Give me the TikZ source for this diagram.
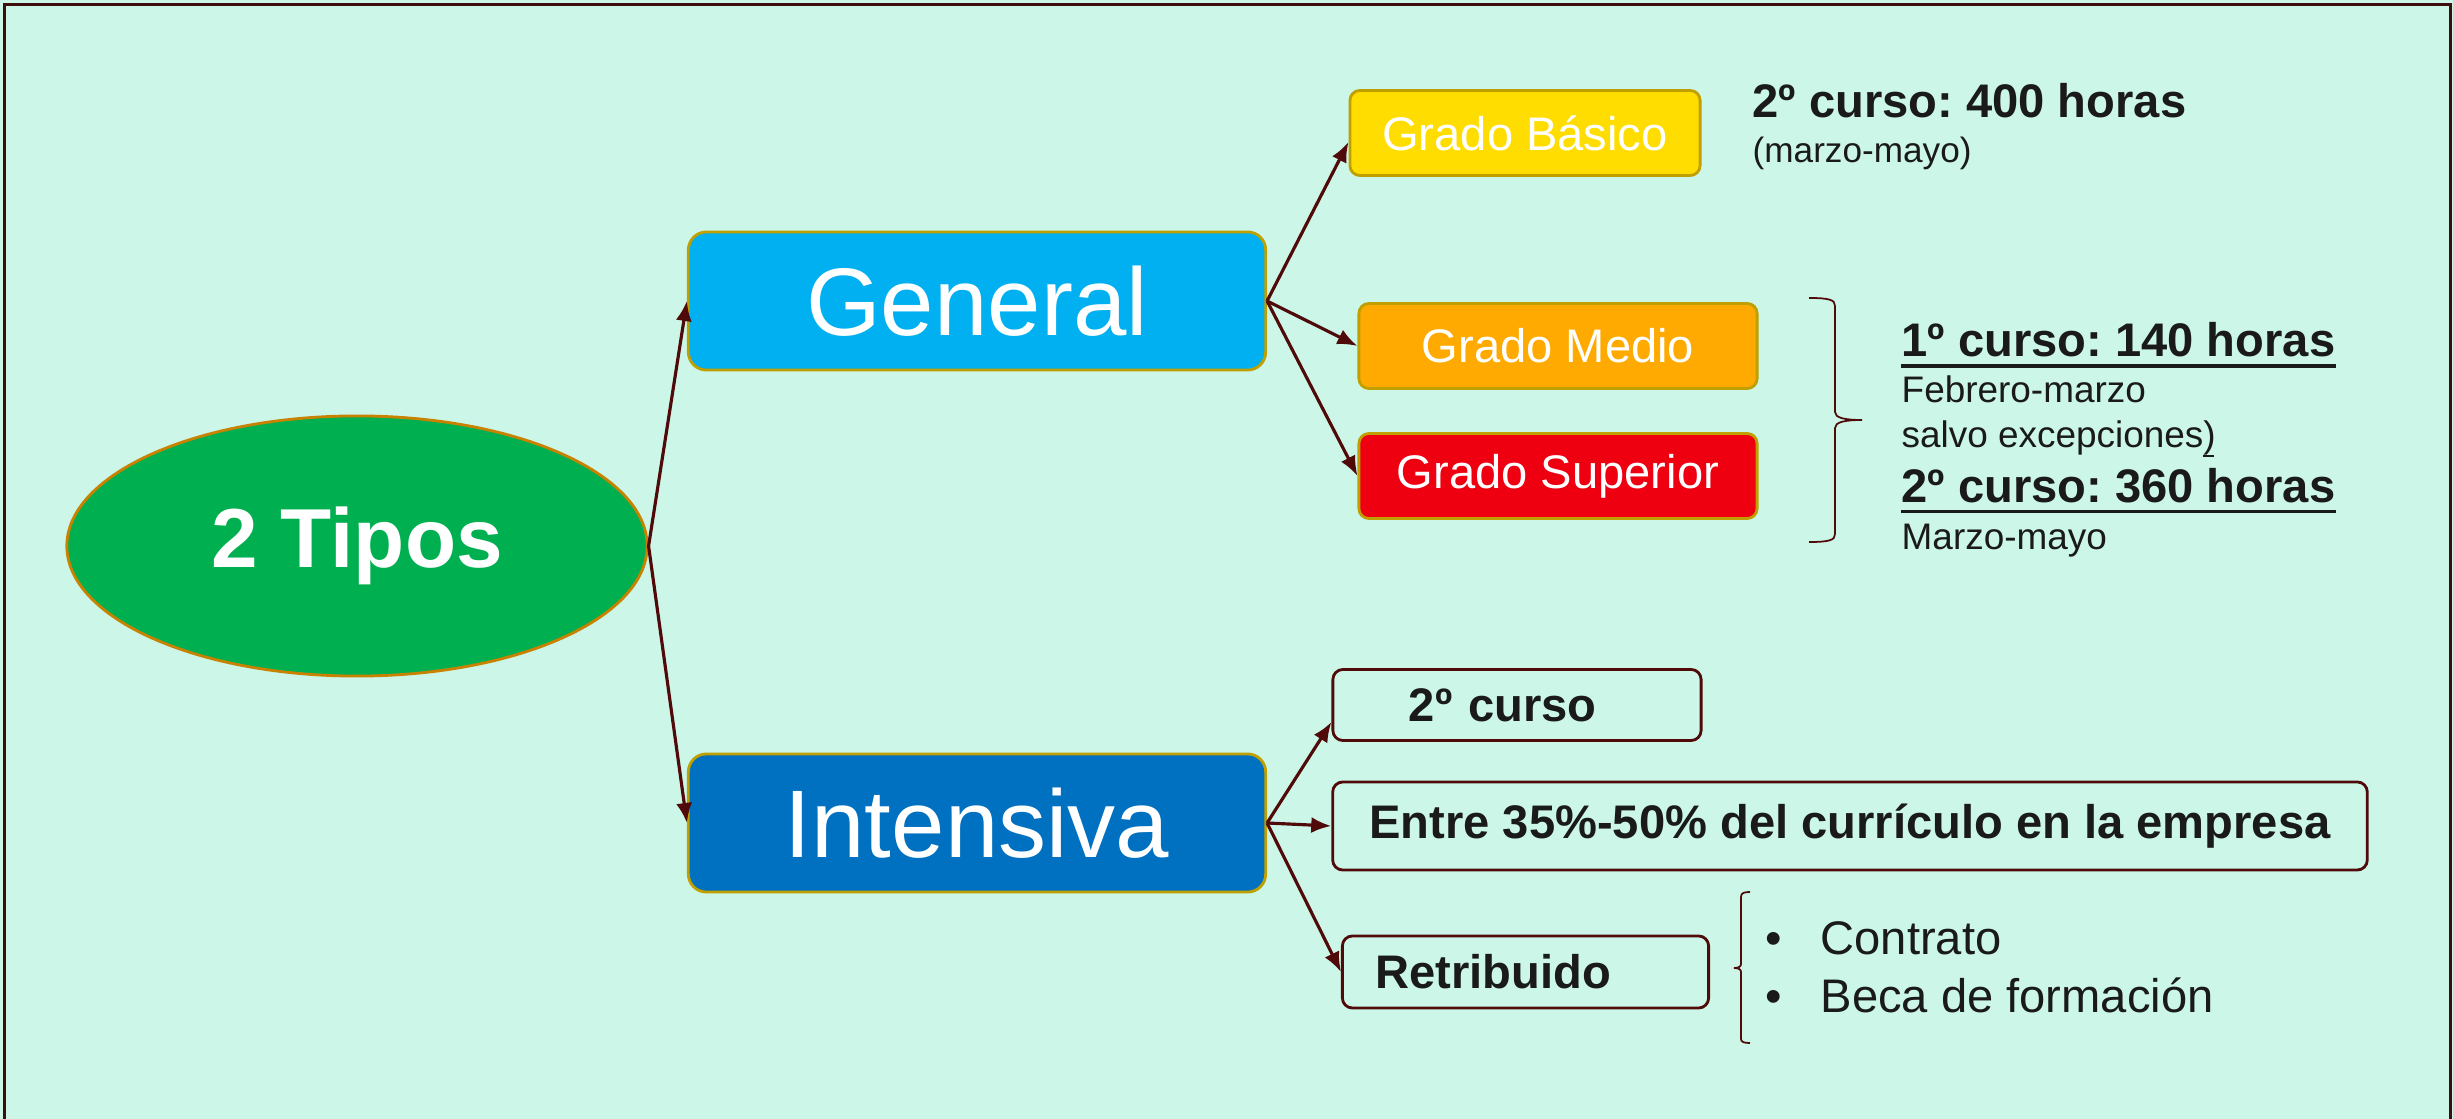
\documentclass[tikz,border=0pt]{standalone}
\usepackage{fontspec}
\setmainfont{Liberation Sans}
\usepackage{tikz}
\usepackage{xcolor}
\usetikzlibrary{arrows.meta,shapes.geometric,positioning}
\frenchspacing

\definecolor{mintbg}{RGB}{204,247,232}
\definecolor{framec}{RGB}{62,14,14}
\definecolor{linkc}{RGB}{80,10,10}
\definecolor{goldedge}{RGB}{191,160,0}
\definecolor{ovaledge}{RGB}{200,130,0}
\definecolor{tiposgreen}{RGB}{0,176,80}
\definecolor{genblue}{RGB}{0,176,240}
\definecolor{intblue}{RGB}{0,112,192}
\definecolor{basyellow}{RGB}{255,221,0}
\definecolor{medorange}{RGB}{255,170,0}
\definecolor{supred}{RGB}{238,0,17}
\definecolor{textdark}{RGB}{26,26,26}

\tikzset{
  typebox/.style={draw=goldedge, line width=0.8pt, rounded corners=0.18cm,
    minimum width=5.77cm, minimum height=1.38cm, text=white,
    font=\fontsize{27.3pt}{32pt}\selectfont},
  gradebox/.style={draw=goldedge, line width=0.8pt, rounded corners=0.1cm,
    minimum height=0.85cm, text=white, font=\fontsize{13.4pt}{16pt}\selectfont},
  infobox/.style={draw=linkc, line width=0.8pt, rounded corners=0.1cm,
    text=textdark, font=\bfseries\fontsize{13.4pt}{16pt}\selectfont},
  head/.style={inner sep=0pt, anchor=base west, text=textdark,
    font=\bfseries\fontsize{13.4pt}{16pt}\selectfont},
  note/.style={inner sep=0pt, anchor=base west, text=textdark,
    font=\fontsize{10.5pt}{12pt}\selectfont},
  item/.style={inner sep=0pt, anchor=base west, text=textdark,
    font=\fontsize{13.4pt}{16pt}\selectfont},
  link/.style={->, draw=linkc, line width=0.9pt},
  ulbar/.style={draw=textdark, line width=1.1pt}
}

\begin{document}
\begin{tikzpicture}[x=0.01cm, y=-0.01cm, >={Latex[length=0.2cm,width=0.16cm]}]
    \useasboundingbox (0,0) rectangle (2453,1119);
    \fill[mintbg] (0,0) rectangle (2453,1119);
    \draw[framec, line width=0.85pt] (4.5,1119) -- (4.5,5) -- (2450.5,5) -- (2450.5,1119);

    % Root and the two types
    \node[draw=ovaledge, line width=0.8pt, fill=tiposgreen, ellipse, minimum width=5.8cm, minimum height=2.6cm,
          text=white, font=\bfseries\fontsize{23.8pt}{28pt}\selectfont] (tipos) at (357,546) {2 Tipos};
    \node[typebox, fill=genblue] (gen) at (977,301) {General};
    \node[typebox, fill=intblue] (int) at (977,823) {Intensiva};

    % General: grades
    \node[gradebox, fill=basyellow, minimum width=3.5cm] (basico) at (1525,133) {Grado Básico};
    \node[gradebox, fill=medorange, minimum width=3.98cm] (medio) at (1558,346) {Grado Medio};
    \node[gradebox, fill=supred, minimum width=3.98cm] (superior) at (1558,476) {Grado Superior};

    % Intensiva: features
    \node[infobox, text width=2.16cm, inner xsep=0.76cm, align=left, minimum height=0.71cm] (curso) at (1517,705) {2º curso};
    \node[infobox, minimum width=10.34cm, minimum height=0.88cm] (empresa) at (1850,826) {Entre 35\%-50\% del currículo en la empresa};
    \node[infobox, text width=3.0cm, inner xsep=0.33cm, align=left, minimum height=0.72cm] (retrib) at (1525.5,972) {\raisebox{-0.1cm}{Retribuido}};

    % Connect nodes
    \draw[link] (tipos.east) -- (gen.west);
    \draw[link] (tipos.east) -- (int.west);

    \draw[link] (gen.east) -- ([yshift=-0.09cm]basico.west);
    \draw[link] (gen.east) -- (medio.west);
    \draw[link] (gen.east) -- (superior.west);

    \draw[link] (int.east) -- ([yshift=-0.17cm]curso.west);
    \draw[link] (int.east) -- (empresa.west);
    \draw[link] (int.east) -- (retrib.west);

    % Hours
    \node[head] (h400) at (1752,118) {2º curso: 400 horas};
    \node[note, font=\fontsize{10pt}{12pt}\selectfont] (m400) at (1752,163) {(marzo-mayo)};

    \node[head] (h140) at (1901,357) {1º curso: 140 horas};
    \node[note] (feb) at (1901,403) {Febrero-marzo};
    \node[note] (salvo) at (1901,448) {salvo excepciones\rlap{\rule[-0.09cm]{0.11cm}{0.45pt}})};
    \node[head] (h360) at (1901,503) {2º curso: 360 horas};
    \node[note] (mar) at (1901,550) {Marzo-mayo};
    \draw[ulbar] ([yshift=-0.09cm]h140.base west) -- ([yshift=-0.09cm]h140.base east);
    \draw[ulbar] ([yshift=-0.085cm]h360.base west) -- ([yshift=-0.085cm]h360.base east);

    % Braces
    \draw[linkc, line width=0.5pt] (1809,298) .. controls (1830,298) and (1835,300) .. (1835,306)
        -- (1835,412) .. controls (1835,418) and (1845,420) .. (1862,420)
        .. controls (1845,420) and (1835,422) .. (1835,428)
        -- (1835,534) .. controls (1835,540) and (1830,542) .. (1809,542);
    \draw[linkc, line width=0.5pt] (1750,892) .. controls (1744,892) and (1741,893) .. (1741,897)
        -- (1741,964) .. controls (1741,967) and (1738,968) .. (1734,968)
        .. controls (1738,968) and (1741,969) .. (1741,972)
        -- (1741,1039) .. controls (1741,1042) and (1744,1043) .. (1750,1043);

    % Retribuido options
    \node[item] (dot1) at (1765,955) {•};
    \node[item] (contrato) at (1820,955) {Contrato};
    \node[item] (dot2) at (1765,1013) {•};
    \node[item] (beca) at (1820,1013) {Beca de formación};
\end{tikzpicture}
\end{document}
